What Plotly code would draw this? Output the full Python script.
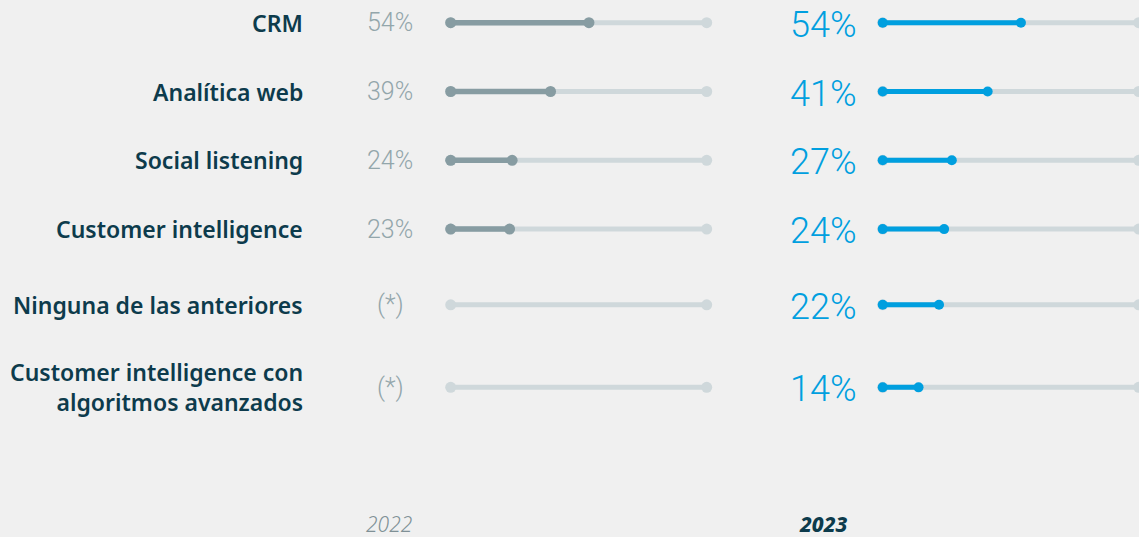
import plotly.graph_objects as go

# ---- data ----
categories = [
    "CRM",
    "Analítica web",
    "Social listening",
    "Customer intelligence",
    "Ninguna de las anteriores",
    "Customer intelligence con<br>algoritmos avanzados",
]
values_2022 = [54, 39, 24, 23, None, None]
values_2023 = [54, 41, 27, 24, 22, 14]
years = ["2022", "2023"]
track_max = 100

# ---- layout constants ----
W, H = 1139, 537
ROW_POS = [0, 1, 2, 3, 4.1, 5.3]
ROW_PX0, ROW_STEP = 22.7, 68.8
Y_RANGE = [(H - ROW_PX0) / ROW_STEP, -ROW_PX0 / ROW_STEP]

BG = "#f0f0f0"
TRACK = "#cfd8db"
GREY_VAL = "#879ca2"
BLUE = "#009fdf"
LABEL = "#0d3b4c"
GREY_TXT = "#93a6ab"

fig = go.Figure()


def add_panel(vals, xaxis, yaxis, color, lw, ms):
    tx, ty = [], []
    for v, y in zip(vals, ROW_POS):
        tx += [0, track_max, None]
        ty += [y, y, None]
    fig.add_trace(go.Scatter(
        x=tx, y=ty, xaxis=xaxis, yaxis=yaxis, mode="lines+markers",
        line=dict(color=TRACK, width=5), marker=dict(color=TRACK, size=11),
        hoverinfo="skip", showlegend=False, cliponaxis=False))
    vx, vy = [], []
    for v, y in zip(vals, ROW_POS):
        if v is None:
            continue
        vx += [0, v, None]
        vy += [y, y, None]
    fig.add_trace(go.Scatter(
        x=vx, y=vy, xaxis=xaxis, yaxis=yaxis, mode="lines+markers",
        line=dict(color=color, width=lw), marker=dict(color=color, size=ms),
        hoverinfo="skip", showlegend=False, cliponaxis=False))


add_panel(values_2022, "x", "y", GREY_VAL, 5.5, 11)
add_panel(values_2023, "x2", "y", BLUE, 5, 10)

ax_common = dict(showgrid=False, zeroline=False, showticklabels=False,
                 ticks="", showline=False, fixedrange=True)
x1_left, x2_left = 450.7, 882.7
px_per_unit = 2.56
fig.update_layout(
    width=W, height=H,
    margin=dict(l=0, r=0, t=0, b=0),
    paper_bgcolor=BG, plot_bgcolor=BG,
    xaxis=dict(domain=[x1_left / W, (x1_left + track_max * px_per_unit) / W],
               range=[0, track_max], **ax_common),
    xaxis2=dict(domain=[x2_left / W, 1.0],
                range=[0, (W - x2_left) / px_per_unit], anchor="y", **ax_common),
    yaxis=dict(domain=[0, 1], range=Y_RANGE, **ax_common),
    hovermode=False,
)

ann = []
for cat, y in zip(categories, ROW_POS):
    ann.append(dict(x=305 / W, xref="paper", y=y, yref="y", text=cat,
                    xanchor="right", yanchor="middle", align="right",
                    showarrow=False,
                    font=dict(family="Noto Sans", size=23, color=LABEL, weight=600)))
for v, y in zip(values_2022, ROW_POS):
    ann.append(dict(x=390 / W, xref="paper", y=y, yref="y",
                    text=f"{v}%" if v is not None else "(*)",
                    xanchor="center", yanchor="middle", showarrow=False,
                    font=dict(family="Roboto", size=25, color=GREY_TXT, weight=300)))
for v, y in zip(values_2023, ROW_POS):
    ann.append(dict(x=823 / W, xref="paper", y=y + 0.03, yref="y",
                    text=f"{v}%" if v is not None else "(*)",
                    xanchor="center", yanchor="middle", showarrow=False,
                    font=dict(family="Roboto", size=36, color=BLUE, weight=300)))
ann.append(dict(x=389 / W, xref="paper", y=1 - 524 / H, yref="paper", text=years[0],
                xanchor="center", yanchor="middle", showarrow=False,
                font=dict(family="Noto Sans", size=21, color="#7f9096", style="italic",
                          weight=300)))
ann.append(dict(x=823 / W, xref="paper", y=1 - 524 / H, yref="paper", text=years[1],
                xanchor="center", yanchor="middle", showarrow=False,
                font=dict(family="Noto Sans", size=21, color=LABEL, style="italic",
                          weight=800)))
fig.update_layout(annotations=ann)

fig.write_html("out.html", config={"displayModeBar": False},
               post_script="document.body.style.margin='0px';")
